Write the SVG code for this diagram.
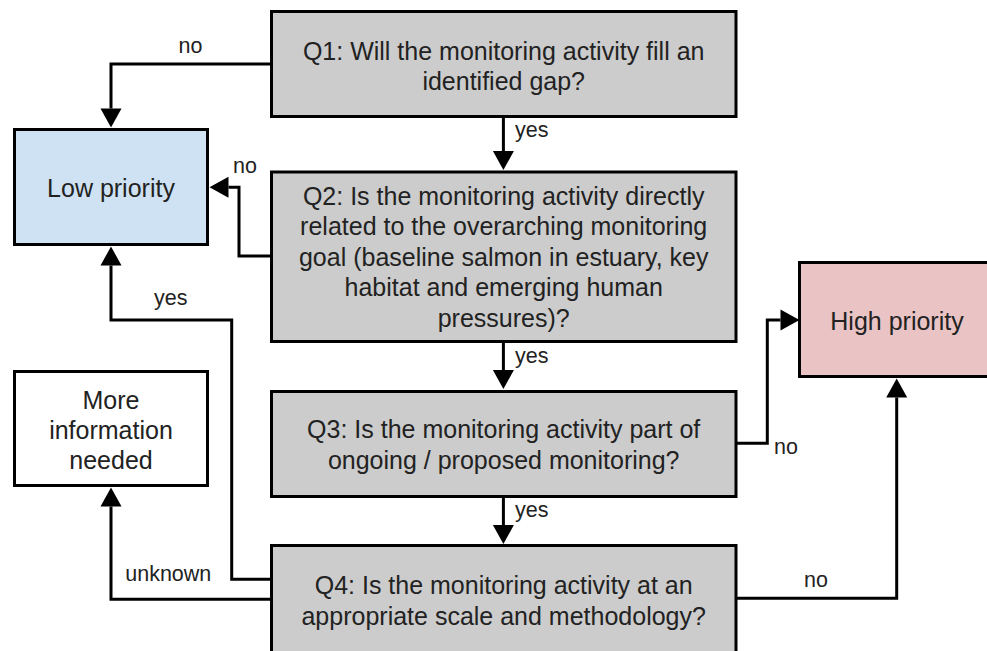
<svg xmlns="http://www.w3.org/2000/svg" width="987" height="651" viewBox="0 0 987 651">
  <style>
    .box { stroke: #000; stroke-width: 3; }
    .q { fill: #cccccc; }
    .low { fill: #cfe2f3; }
    .high { fill: #eac4c4; }
    .info { fill: #ffffff; }
    .t { font-family: "Liberation Sans", Arial, sans-serif; font-size: 25px; fill: #222; text-anchor: middle; }
    .lbl { font-family: "Liberation Sans", Arial, sans-serif; font-size: 21.5px; fill: #222; }
    .mid { text-anchor: middle; }
    .edge { fill: none; stroke: #000; stroke-width: 3; marker-end: url(#arrow); }
  </style>
  <defs>
    <marker id="arrow" markerUnits="userSpaceOnUse" markerWidth="20" markerHeight="21" refX="0" refY="10.5" orient="auto" overflow="visible">
      <path d="M0,0 L19,10.5 L0,21 Z" fill="#000"/>
    </marker>
  </defs>

  <rect width="987" height="651" fill="#ffffff"/>

  <!-- connectors -->
  <g id="connectors">
    <path class="edge" d="M271.5,64 H111 V108.5"/>
    <path class="edge" d="M503.4,118 V151"/>
    <path class="edge" d="M271.5,256 H239 V187.3 H228.5"/>
    <path class="edge" d="M271.5,579.3 H231.7 V320 H111 V265.5"/>
    <path class="edge" d="M271.5,599.3 H111 V506.5"/>
    <path class="edge" d="M503.4,343 V370"/>
    <path class="edge" d="M503.4,498 V525"/>
    <path class="edge" d="M736,443.3 H767.3 V320 H780.5"/>
    <path class="edge" d="M736,598.3 H896.7 V397.5"/>

    <text class="lbl mid" x="190.5" y="52.5">no</text>
    <text class="lbl" x="515" y="137">yes</text>
    <text class="lbl mid" x="245" y="173">no</text>
    <text class="lbl mid" x="170.7" y="305">yes</text>
    <text class="lbl mid" x="168.3" y="580.7">unknown</text>
    <text class="lbl" x="515" y="362.7">yes</text>
    <text class="lbl" x="515" y="516.7">yes</text>
    <text class="lbl" x="774" y="454.3">no</text>
    <text class="lbl mid" x="816" y="586.7">no</text>
  </g>

  <g id="q1">
    <rect class="box q" x="271.5" y="11.5" width="464.5" height="105"/>
    <text class="t" x="503.7" y="59.5">Q1: Will the monitoring activity fill an<tspan x="503.7" dy="30.5">identified gap?</tspan></text>
  </g>

  <g id="q2">
    <rect class="box q" x="271.5" y="172" width="464.5" height="169.5"/>
    <text class="t" x="503.7" y="204.5">Q2: Is the monitoring activity directly<tspan x="503.7" dy="30.5">related to the overarching monitoring</tspan><tspan x="503.7" dy="30.5">goal (baseline salmon in estuary, key</tspan><tspan x="503.7" dy="30.5">habitat and emerging human</tspan><tspan x="503.7" dy="30.5">pressures)?</tspan></text>
  </g>

  <g id="q3">
    <rect class="box q" x="271.5" y="391.5" width="464.5" height="105"/>
    <text class="t" x="503.7" y="438">Q3: Is the monitoring activity part of<tspan x="503.7" dy="30.5">ongoing / proposed monitoring?</tspan></text>
  </g>

  <g id="q4">
    <rect class="box q" x="271.5" y="545.5" width="464.5" height="107"/>
    <text class="t" x="503.7" y="594.3">Q4: Is the monitoring activity at an<tspan x="503.7" dy="30.7">appropriate scale and methodology?</tspan></text>
  </g>

  <g id="low-priority">
    <rect class="box low" x="14.5" y="129.5" width="193" height="115"/>
    <text class="t" x="111" y="197">Low priority</text>
  </g>

  <g id="more-information">
    <rect class="box info" x="14.5" y="371.5" width="193" height="114"/>
    <text class="t" x="111" y="409">More<tspan x="111" dy="30">information</tspan><tspan x="111" dy="30">needed</tspan></text>
  </g>

  <g id="high-priority">
    <rect class="box high" x="799.5" y="262.5" width="195" height="114"/>
    <text class="t" x="897" y="330">High priority</text>
  </g>
</svg>
